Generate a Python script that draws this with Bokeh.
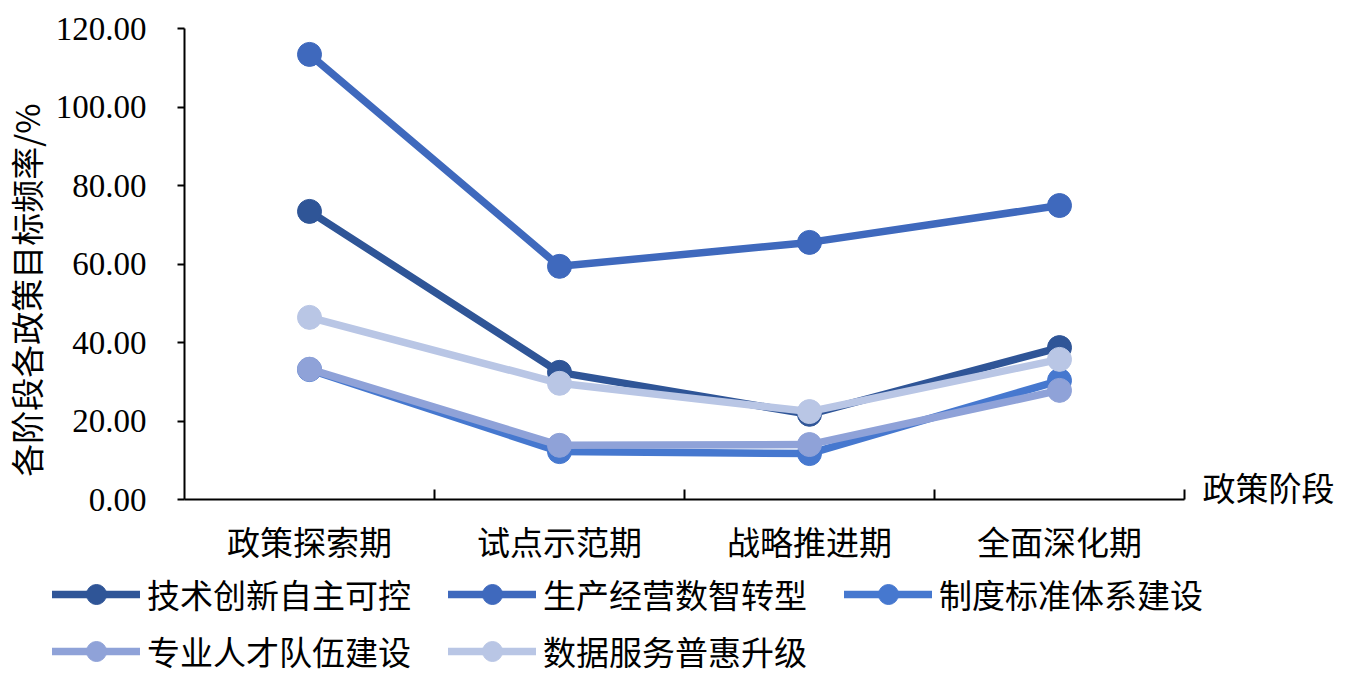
import math
from bokeh.plotting import figure
from bokeh.models import (Range1d, FixedTicker, NumeralTickFormatter, Legend, LegendItem,
                          Label, ColumnDataSource, LinearAxis)
from bokeh.embed import file_html
from bokeh.resources import INLINE

categories = ["政策探索期", "试点示范期", "战略推进期", "全面深化期"]
series_names = ["技术创新自主可控", "生产经营数智转型", "制度标准体系建设", "专业人才队伍建设", "数据服务普惠升级"]
s1 = [73.4, 32.4, 21.7, 38.7]
s2 = [113.4, 59.4, 65.5, 74.9]
s3 = [33.1, 12.2, 11.7, 30.3]
s4 = [33.2, 13.8, 14.0, 27.8]
s5 = [46.4, 29.6, 22.4, 35.7]
series_values = [s1, s2, s3, s4, s5]
colors = ["#2F5597", "#3F69BD", "#4678CF", "#8FA2D8", "#B9C6E5"]
y_ticks = [0, 20, 40, 60, 80, 100, 120]
x_axis_title = "政策阶段"
y_axis_title = "各阶段各政策目标频率/%"

CJK = "Noto Sans CJK SC"
SERIF = "Liberation Serif"
FS = "33px"

W, H = 1336, 676
# pixel geometry of the plotting area inside the figure
AX_L, AX_R, AX_T, AX_B = 184, 1184, 28, 499
n = len(categories)
xpx = (AX_R - AX_L) / n
ypx = (AX_B - AX_T) / 120.0
x_range = Range1d(-AX_L / xpx, (W - AX_L) / xpx)
y_range = Range1d(-(H - AX_B) / ypx, 120 + AX_T / ypx)

p = figure(width=W, height=H, output_backend="svg", toolbar_location=None,
           x_range=x_range, y_range=y_range,
           x_axis_location=None, y_axis_location=None,
           min_border=0)
p.outline_line_color = None
p.grid.visible = False
p.background_fill_color = "white"

xs = [i + 0.5 for i in range(n)]

renderers = []
for name, vals, col in zip(series_names, series_values, colors):
    src = ColumnDataSource(dict(x=xs, y=vals))
    l = p.line("x", "y", source=src, line_color=col, line_width=7.5,
               line_cap="round", line_join="round")
    c = p.scatter("x", "y", source=src, size=24, fill_color=col, line_color=col)
    renderers.append((name, [l, c]))

# x axis
xa = LinearAxis(fixed_location=0, bounds=(0, n))
xa.ticker = FixedTicker(ticks=xs, minor_ticks=list(range(1, n + 1)))
xa.major_label_overrides = {x: c for x, c in zip(xs, categories)}
xa.major_tick_in = 0
xa.major_tick_out = 0
xa.minor_tick_in = 10
xa.minor_tick_out = 0
xa.minor_tick_line_color = "black"
xa.minor_tick_line_width = 2
xa.axis_line_width = 2
xa.axis_line_color = "black"
xa.major_label_text_font = CJK
xa.major_label_text_font_size = FS
xa.major_label_text_color = "black"
xa.major_label_standoff = 17
p.add_layout(xa, "below")

# y axis
ya = LinearAxis(fixed_location=0, bounds=(0, 120))
ya.ticker = FixedTicker(ticks=y_ticks)
ya.formatter = NumeralTickFormatter(format="0.00")
ya.minor_tick_line_color = None
ya.major_tick_in = 0
ya.major_tick_out = 7
ya.major_tick_line_width = 2
ya.major_tick_line_color = "black"
ya.axis_line_width = 2
ya.axis_line_color = "black"
ya.major_label_text_font = SERIF
ya.major_label_text_font_size = FS
ya.major_label_text_color = "black"
ya.major_label_standoff = 31
p.add_layout(ya, "left")

# axis titles
p.add_layout(Label(x=0, y=60, x_offset=-159, y_offset=-26, text=y_axis_title, angle=math.pi / 2,
                   text_font=CJK, text_font_size=FS, text_color="black",
                   text_baseline="middle", text_align="center"))
p.add_layout(Label(x=n, y=0, x_offset=18, y_offset=13, text=x_axis_title,
                   text_font=CJK, text_font_size=FS, text_color="black",
                   text_baseline="middle", text_align="left"))

# legend: row-major order over 3 columns
item_list = [LegendItem(label=nm, renderers=r) for nm, r in renderers]
ncols = 3
order = [i for c in range(ncols) for i in range(c, len(item_list), ncols)]
legend = Legend(items=[item_list[i] for i in order], nrows=2, location=(52, 0),
                glyph_width=88, glyph_height=50, label_standoff=7, spacing=7,
                label_width=294, padding=0, margin=0,
                label_text_font=CJK, label_text_font_size=FS, label_text_color="black",
                border_line_color=None, background_fill_alpha=0)
p.add_layout(legend, "center")

open("out.html", "w").write(file_html(p, INLINE))
